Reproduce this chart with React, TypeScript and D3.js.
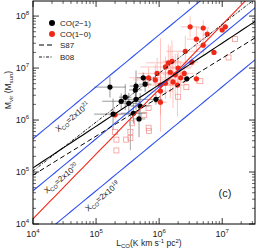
import React, { useRef, useEffect } from 'react';
import * as d3 from 'd3';

const W = 256;
const H = 250;

const X_TICKS = [1e4, 1e5, 1e6, 1e7];
const Y_TICKS = [1e4, 1e5, 1e6, 1e7, 1e8];

// CO(2-1) clouds: luminosity, virial mass, errors in dex
const CO21_L = [1.66e5, 2.5e5, 2.9e5, 4.3e5, 3.3e5, 4.3e5, 1.86e5, 3.9e5, 5.0e5, 4.8e5, 4.2e5, 6.0e5, 5.6e5, 2.75e6, 8.9e5];
const CO21_M = [4.3e6, 2.3e6, 2.75e6, 4.5e6, 2.1e6, 2.5e6, 1.3e6, 1.35e6, 1.86e6, 1.05e6, 3.8e6, 4.9e6, 6.5e6, 6.2e6, 2.5e6];
const CO21_XERR = [0.25, 0.3, 0.1, 0.1, 0.15, 0.2, 0.3, 0.2, 0.15, 0.1, 0.1, 0.1, 0.1, 0.05, 0.1];
const CO21_YERR = [0.2, 0.15, 0.25, 0.3, 0.2, 0.2, 0.3, 0.2, 0.25, 0.35, 0.15, 0.15, 0.1, 0.05, 0.1];

// CO(1-0) clouds
const CO10_L = [3.1e6, 5.0e6, 5.8e6, 1.12e7, 1.0e7, 3.9e6, 5.0e6, 2.6e6, 7.4e6, 1.4e6, 1.6e6, 1.26e6, 3.3e6, 2.0e6, 1.5e6, 9.3e5, 2.5e6, 1.8e6, 2.2e6, 8.7e5, 1.05e6, 1.66e6, 3.9e6, 1.95e6, 1.05e6, 1.05e6, 6.8e5, 2.0e5, 1.26e6];
const CO10_M = [6.2e7, 5.9e7, 4.5e7, 6.2e7, 5.4e7, 3.6e7, 2.75e7, 2.1e7, 2.0e7, 1.26e7, 1.35e7, 1.05e7, 1.3e7, 1.0e7, 8.3e6, 7.9e6, 7.9e6, 7.4e6, 6.5e6, 5.9e6, 4.7e6, 5.4e6, 6.2e6, 4.7e6, 3.6e6, 2.2e6, 6.5e6, 1.26e6, 5.1e6];
const CO10_XERR = [0.15, 0.1, 0.06, 0.05, 0.05, 0.15, 0.1, 0.3, 0.05, 0.35, 0.15, 0.4, 0.1, 0.2, 0.25, 0.3, 0.15, 0.2, 0.1, 0.35, 0.2, 0.2, 0.05, 0.15, 0.2, 0.1, 0.3, 0.1, 0.2];
const CO10_YERR = [0.2, 0.15, 0.1, 0.06, 0.05, 0.25, 0.2, 0.3, 0.05, 0.35, 0.4, 0.2, 0.1, 0.3, 0.5, 0.3, 0.2, 0.4, 0.3, 0.3, 0.9, 0.5, 0.1, 0.6, 0.3, 0.25, 0.2, 0.1, 0.3];

// open squares
const SQ_L = [1.6e7, 1.26e7, 4.5e6, 2.7e6, 6.8e5, 5.8e5, 2.1e5, 3.0e5, 2.1e5, 2.0e5, 3.5e5, 3.5e5, 6.9e5, 6.8e5, 3.7e5, 2.0e6];
const SQ_M = [3.6e7, 1.6e7, 5.6e6, 4.3e6, 1.7e6, 1.26e6, 4.2e5, 4.2e5, 2.6e5, 5.9e5, 5.9e5, 4.5e5, 6.2e5, 7.1e5, 8.7e5, 2.8e6];
const SQ_YERR = [0, 0, 0, 0, 0, 0, 0, 0, 0, 0, 0.35, 0, 0, 0, 0, 0];

// X_CO lines: M = 4.35 * (X / 2e20) * L
const XCO_VALUES = [2e21, 2e20, 2e19];
const XCO_EXP = ['21', '20', '19'];
const XCO_LABEL_L = [3.5e4, 2.3e4, 1.04e5];

// power-law fits: log M = a + b log L
const FIT_RED = { a: -0.88, b: 1.245 };
const FIT_BLACK = { a: 1.88, b: 0.8 };
const FIT_S87 = { a: 1.94, b: 0.75 };
const FIT_B08 = { a: 1.26, b: 0.94 };

const FONT = '"Liberation Sans", Arial, sans-serif';
const BLUE = '#3050f0';
const RED = '#f02818';

const App = () => {
  const svgRef = useRef<SVGSVGElement>(null);

  useEffect(() => {
    document.body.style.margin = '0';
    const margin = { top: 1, right: 1, bottom: 26, left: 33 };
    const width = W - margin.left - margin.right;
    const height = H - margin.top - margin.bottom;

    const svg = d3.select(svgRef.current).attr('width', W).attr('height', H);
    svg.selectAll('*').remove();

    const x = d3.scaleLog().domain([1e4, Math.pow(10, 7.52)]).range([0, width]);
    const y = d3.scaleLog().domain([1e4, Math.pow(10, 8.29)]).range([height, 0]);

    svg.append('defs').append('clipPath').attr('id', 'plotclip')
      .append('rect').attr('width', width).attr('height', height);

    const g = svg.append('g').attr('transform', `translate(${margin.left},${margin.top})`);
    const plot = g.append('g').attr('clip-path', 'url(#plotclip)');

    const [L0, L1] = x.domain();
    const powerLine = (a: number, b: number) => {
      const pts = d3.range(0, 41).map(i => Math.pow(10, Math.log10(L0) + (Math.log10(L1) - Math.log10(L0)) * i / 40));
      return d3.line<number>().x(L => x(L)).y(L => y(Math.pow(10, a + b * Math.log10(L))))(pts);
    };

    // red error bars
    CO10_L.forEach((L, i) => {
      const M = CO10_M[i];
      plot.append('line').attr('x1', x(L * Math.pow(10, -CO10_XERR[i]))).attr('x2', x(L * Math.pow(10, CO10_XERR[i])))
        .attr('y1', y(M)).attr('y2', y(M)).attr('stroke', '#ff7a70').attr('stroke-opacity', 0.55).attr('stroke-width', 0.8);
      plot.append('line').attr('x1', x(L)).attr('x2', x(L))
        .attr('y1', y(M * Math.pow(10, -CO10_YERR[i]))).attr('y2', y(M * Math.pow(10, CO10_YERR[i])))
        .attr('stroke', '#ff7a70').attr('stroke-opacity', 0.55).attr('stroke-width', 0.8);
    });

    // squares
    SQ_L.forEach((L, i) => {
      const M = SQ_M[i];
      if (SQ_YERR[i] > 0) {
        plot.append('line').attr('x1', x(L)).attr('x2', x(L))
          .attr('y1', y(M * Math.pow(10, -SQ_YERR[i]))).attr('y2', y(M * Math.pow(10, SQ_YERR[i])))
          .attr('stroke', '#888').attr('stroke-width', 0.7);
      }
      plot.append('rect').attr('x', x(L) - 2.5).attr('y', y(M) - 2.5).attr('width', 5).attr('height', 5)
        .attr('fill', 'none').attr('stroke', '#f59a94').attr('stroke-width', 0.8);
    });

    // black error bars
    CO21_L.forEach((L, i) => {
      const M = CO21_M[i];
      plot.append('line').attr('x1', x(L * Math.pow(10, -CO21_XERR[i]))).attr('x2', x(L * Math.pow(10, CO21_XERR[i])))
        .attr('y1', y(M)).attr('y2', y(M)).attr('stroke', '#555').attr('stroke-width', 0.6);
      plot.append('line').attr('x1', x(L)).attr('x2', x(L))
        .attr('y1', y(M * Math.pow(10, -CO21_YERR[i]))).attr('y2', y(M * Math.pow(10, CO21_YERR[i])))
        .attr('stroke', '#555').attr('stroke-width', 0.6);
    });

    // points
    plot.selectAll('.red').data(CO10_L).enter().append('circle')
      .attr('cx', d => x(d)).attr('cy', (d, i) => y(CO10_M[i])).attr('r', 2.6).attr('fill', RED);
    plot.selectAll('.blk').data(CO21_L).enter().append('circle')
      .attr('cx', d => x(d)).attr('cy', (d, i) => y(CO21_M[i])).attr('r', 2.6).attr('fill', '#000');

    // X_CO lines
    XCO_VALUES.forEach(X => {
      const a = Math.log10(4.35 * X / 2e20);
      plot.append('path').attr('d', powerLine(a, 1)).attr('fill', 'none').attr('stroke', BLUE).attr('stroke-width', 1.1);
    });

    // fits
    plot.append('path').attr('d', powerLine(FIT_RED.a, FIT_RED.b)).attr('fill', 'none').attr('stroke', RED).attr('stroke-width', 1.1);
    plot.append('path').attr('d', powerLine(FIT_BLACK.a, FIT_BLACK.b)).attr('fill', 'none').attr('stroke', '#000').attr('stroke-width', 1.1);
    plot.append('path').attr('d', powerLine(FIT_S87.a, FIT_S87.b)).attr('fill', 'none').attr('stroke', '#000')
      .attr('stroke-width', 1).attr('stroke-dasharray', '5,3');
    plot.append('path').attr('d', powerLine(FIT_B08.a, FIT_B08.b)).attr('fill', 'none').attr('stroke', '#000')
      .attr('stroke-width', 0.9).attr('stroke-dasharray', '3,1.5,1,1.5');

    // X_CO labels
    const ang = -Math.atan((y(1e4) - y(1e5)) / (x(1e5) - x(1e4))) * 180 / Math.PI;
    XCO_VALUES.forEach((X, i) => {
      const L = XCO_LABEL_L[i];
      const M = 4.35 * X / 2e20 * L;
      const t = plot.append('text').attr('transform', `translate(${x(L)},${y(M)}) rotate(${ang})`)
        .attr('y', 11).attr('text-anchor', 'middle').attr('font-family', FONT).attr('font-size', 8).attr('fill', '#222');
      t.append('tspan').text('X');
      t.append('tspan').attr('font-size', 5.5).attr('dy', 2).text('CO');
      t.append('tspan').attr('dy', -2).text('=2x10');
      t.append('tspan').attr('font-size', 5.5).attr('dy', -3.5).text(XCO_EXP[i]);
    });

    // frame
    g.append('rect').attr('width', width).attr('height', height).attr('fill', 'none').attr('stroke', '#000').attr('stroke-width', 1);

    // ticks on all sides
    const minor = (lo: number, hi: number) => {
      const out: number[] = [];
      for (let e = Math.floor(Math.log10(lo)); e <= Math.ceil(Math.log10(hi)); e++) {
        for (let k = 2; k <= 9; k++) {
          const v = k * Math.pow(10, e);
          if (v > lo && v < hi) out.push(v);
        }
      }
      return out;
    };
    const [Y0, Y1] = y.domain();
    X_TICKS.forEach(v => {
      g.append('line').attr('x1', x(v)).attr('x2', x(v)).attr('y1', height).attr('y2', height - 6).attr('stroke', '#000').attr('stroke-width', 0.8);
      g.append('line').attr('x1', x(v)).attr('x2', x(v)).attr('y1', 0).attr('y2', 6).attr('stroke', '#000').attr('stroke-width', 0.8);
    });
    minor(L0, L1).forEach(v => {
      g.append('line').attr('x1', x(v)).attr('x2', x(v)).attr('y1', height).attr('y2', height - 3).attr('stroke', '#000').attr('stroke-width', 0.6);
      g.append('line').attr('x1', x(v)).attr('x2', x(v)).attr('y1', 0).attr('y2', 3).attr('stroke', '#000').attr('stroke-width', 0.6);
    });
    Y_TICKS.forEach(v => {
      g.append('line').attr('x1', 0).attr('x2', 6).attr('y1', y(v)).attr('y2', y(v)).attr('stroke', '#000').attr('stroke-width', 0.8);
      g.append('line').attr('x1', width).attr('x2', width - 6).attr('y1', y(v)).attr('y2', y(v)).attr('stroke', '#000').attr('stroke-width', 0.8);
    });
    minor(Y0, Y1).forEach(v => {
      g.append('line').attr('x1', 0).attr('x2', 3).attr('y1', y(v)).attr('y2', y(v)).attr('stroke', '#000').attr('stroke-width', 0.6);
      g.append('line').attr('x1', width).attr('x2', width - 3).attr('y1', y(v)).attr('y2', y(v)).attr('stroke', '#000').attr('stroke-width', 0.6);
    });

    // tick labels
    X_TICKS.forEach(v => {
      const t = g.append('text').attr('x', x(v)).attr('y', height + 13).attr('text-anchor', 'middle')
        .attr('font-family', FONT).attr('font-size', 9).attr('fill', '#222');
      t.append('tspan').text('10');
      t.append('tspan').attr('font-size', 6).attr('dy', -4).text(String(Math.round(Math.log10(v))));
    });
    Y_TICKS.forEach(v => {
      const t = g.append('text').attr('x', -4).attr('y', y(v) + 3).attr('text-anchor', 'end')
        .attr('font-family', FONT).attr('font-size', 9).attr('fill', '#222');
      t.append('tspan').text('10');
      t.append('tspan').attr('font-size', 6).attr('dy', -4).text(String(Math.round(Math.log10(v))));
    });

    // axis titles
    const xt = svg.append('text').attr('x', 149).attr('y', 246).attr('text-anchor', 'middle')
      .attr('font-family', FONT).attr('font-size', 8.5).attr('fill', '#222');
    xt.append('tspan').text('L');
    xt.append('tspan').attr('font-size', 6).attr('dy', 2).text('CO');
    xt.append('tspan').attr('dy', -2).text('(K km s');
    xt.append('tspan').attr('font-size', 6).attr('dy', -3.5).text('-1');
    xt.append('tspan').attr('dy', 3.5).text(' pc');
    xt.append('tspan').attr('font-size', 6).attr('dy', -3.5).text('2');
    xt.append('tspan').attr('dy', 3.5).text(')');

    const yt = svg.append('text').attr('transform', 'translate(11,90) rotate(-90)').attr('text-anchor', 'middle')
      .attr('font-family', FONT).attr('font-size', 8.5).attr('fill', '#222');
    yt.append('tspan').text('M');
    yt.append('tspan').attr('font-size', 6).attr('dy', 2).text('vir');
    yt.append('tspan').attr('dy', -2).text(' (M');
    yt.append('tspan').attr('font-size', 6).attr('dy', 2).text('sun');
    yt.append('tspan').attr('dy', -2).text(')');

    // legend
    const leg = svg.append('g').attr('font-family', FONT).attr('font-size', 8).attr('fill', '#222');
    leg.append('circle').attr('cx', 52).attr('cy', 23).attr('r', 3).attr('fill', '#000');
    leg.append('text').attr('x', 60).attr('y', 26).text('CO(2\u22121)');
    leg.append('circle').attr('cx', 52).attr('cy', 34).attr('r', 3).attr('fill', RED);
    leg.append('text').attr('x', 60).attr('y', 37).text('CO(1\u22120)');
    leg.append('line').attr('x1', 39).attr('x2', 52).attr('y1', 45).attr('y2', 45).attr('stroke', '#000').attr('stroke-dasharray', '5,3');
    leg.append('text').attr('x', 60).attr('y', 48).text('S87');
    leg.append('line').attr('x1', 39).attr('x2', 52).attr('y1', 57).attr('y2', 57).attr('stroke', '#000').attr('stroke-width', 0.9)
      .attr('stroke-dasharray', '3,1.5,1,1.5');
    leg.append('text').attr('x', 60).attr('y', 60).text('B08');

    svg.append('text').attr('x', 225).attr('y', 197).attr('text-anchor', 'middle')
      .attr('font-family', FONT).attr('font-size', 11).attr('fill', '#222').text('(c)');
  }, []);

  return (
    <div style={{ width: W, height: H }}>
      <svg ref={svgRef} style={{ display: 'block' }}></svg>
    </div>
  );
};

export default App;
